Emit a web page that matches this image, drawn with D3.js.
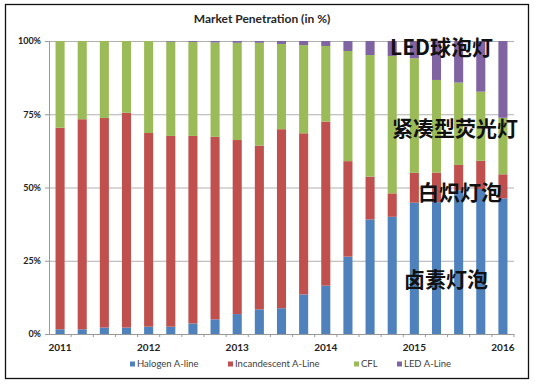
<!DOCTYPE html>
<html>
<head>
<meta charset="utf-8">
<script src="https://cdn.jsdelivr.net/npm/d3@7"></script>
<style>
  body { margin: 0; background: #fff; }
</style>
</head>
<body>
<div id="chart"></div>
<script>
const width = 535;
const height = 384;

// quarterly categories, 2011 Q1 .. 2016 Q1
const quarters = ["2011Q1","2011Q2","2011Q3","2011Q4","2012Q1","2012Q2","2012Q3","2012Q4",
  "2013Q1","2013Q2","2013Q3","2013Q4","2014Q1","2014Q2","2014Q3","2014Q4",
  "2015Q1","2015Q2","2015Q3","2015Q4","2016Q1"];
const yearLabels = { "2011Q1": "2011", "2012Q1": "2012", "2013Q1": "2013", "2014Q1": "2014", "2015Q1": "2015", "2016Q1": "2016" };
const yTicks = [0, 25, 50, 75, 100];

// shares in %
const halogen      = [1.6,1.6,2.2,2.2,2.5,2.5,3.6,5.0,6.8,8.4,8.8,13.5,16.5,26.4,39.1,40.0,44.8,45.0,49.0,49.5,46.3];
const incandescent = [68.8,71.7,71.5,73.3,66.1,65.1,64.0,62.3,59.4,55.9,61.1,55.0,56.0,32.6,14.6,8.0,10.2,10.1,8.7,9.6,8.2];
const cfl          = [29.6,26.7,26.3,24.5,31.4,32.2,32.1,32.2,33.2,35.1,29.1,30.1,25.8,37.6,41.5,46.9,39.1,31.6,28.1,23.6,19.3];
const led          = [0,0,0,0,0,0.2,0.3,0.5,0.6,0.6,1.0,1.4,1.7,3.4,4.8,5.1,5.9,13.3,14.2,17.3,26.2];

const seriesNames = ["Halogen A-line", "Incandescent A-Line", "CFL", "LED A-Line"];
const colors = ["#4f81bd", "#c0504d", "#9bbb59", "#8064a2"];

const notes = [
  { text: "LED球泡灯", x: 390, y: 46 },
  { text: "紧凑型荧光灯", x: 392, y: 127 },
  { text: "白炽灯泡", x: 418, y: 191 },
  { text: "卤素灯泡", x: 404, y: 278 }
];

const rows = quarters.map((q, i) => ({ q, s0: halogen[i], s1: incandescent[i], s2: cfl[i], s3: led[i] }));
const stack = d3.stack().keys(["s0", "s1", "s2", "s3"])(rows);

const margin = { left: 49, right: 21, top: 41, bottom: 50 };
const x = d3.scaleBand().domain(quarters).range([margin.left, width - margin.right]).paddingInner(0.59).paddingOuter(0.295);
const y = d3.scaleLinear().domain([0, 100]).range([height - margin.bottom, margin.top]);

const svg = d3.select("#chart").append("svg").attr("width", width).attr("height", height);

svg.append("rect").attr("x", 5.5).attr("y", 4.5).attr("width", 523).attr("height", 374)
  .attr("fill", "#fff").attr("stroke", "#111").attr("stroke-width", 1.3);

svg.append("text").attr("x", 262).attr("y", 23).attr("text-anchor", "middle")
  .style("font-family", "Lato, 'Open Sans', sans-serif").style("font-weight", "bold")
  .style("font-size", "12px").attr("fill", "#262626").text("Market Penetration (in %)");

// gridlines
svg.append("g").selectAll("line").data(yTicks.filter(d => d > 0)).join("line")
  .attr("x1", margin.left).attr("x2", width - margin.right)
  .attr("y1", d => y(d) + 0.5).attr("y2", d => y(d) + 0.5)
  .attr("stroke", "#b0b0b0").attr("stroke-width", 1);

// bars
svg.append("g").selectAll("g").data(stack).join("g")
  .attr("fill", (d, i) => colors[i])
  .selectAll("rect").data(d => d).join("rect")
  .attr("x", d => x(d.data.q)).attr("width", x.bandwidth())
  .attr("y", d => y(d[1])).attr("height", d => Math.max(0, y(d[0]) - y(d[1])));

// y axis
const yAxis = svg.append("g").attr("transform", `translate(${margin.left},0)`)
  .call(d3.axisLeft(y).tickValues(yTicks).tickFormat(d => d + "%").tickSize(4).tickPadding(4));
yAxis.select(".domain").attr("stroke", "#999");
yAxis.selectAll(".tick line").attr("stroke", "#999");
yAxis.selectAll("text").style("font-family", "Lato, 'Open Sans', sans-serif").style("font-weight", "bold")
  .style("font-size", "9px").attr("fill", "#222");

// x axis: ticks at band boundaries, year labels on first quarter
const xAxis = svg.append("g").attr("transform", `translate(0,${y(0)})`);
xAxis.append("line").attr("x1", margin.left).attr("x2", width - margin.right)
  .attr("y1", 0.5).attr("y2", 0.5).attr("stroke", "#999");
const step = x.step();
xAxis.selectAll("line.tk").data(quarters).join("line").attr("class", "tk")
  .attr("x1", d => x(d) - x.paddingInner() * step / 2 + step).attr("x2", d => x(d) - x.paddingInner() * step / 2 + step)
  .attr("y1", 0).attr("y2", 3).attr("stroke", "#999");
xAxis.selectAll("text").data(quarters.filter(q => yearLabels[q])).join("text")
  .attr("x", d => x(d) + x.bandwidth() / 2).attr("y", 17).attr("text-anchor", "middle")
  .style("font-family", "Lato, 'Open Sans', sans-serif").style("font-weight", "bold")
  .style("font-size", "10px").attr("fill", "#222").text(d => yearLabels[d]);

// legend
const legendX = [130, 228, 354, 397];
const legend = svg.append("g").selectAll("g").data(seriesNames).join("g")
  .attr("transform", (d, i) => `translate(${legendX[i]},364)`);
legend.append("rect").attr("x", 0).attr("y", -2.5).attr("width", 5).attr("height", 5).attr("fill", (d, i) => colors[i]);
legend.append("text").attr("x", 7).attr("y", 3.3)
  .style("font-family", "Lato, 'Open Sans', sans-serif").style("font-size", "9.5px").attr("fill", "#404040")
  .text(d => d);

// chinese annotations
svg.append("g").selectAll("text").data(notes).join("text")
  .attr("x", d => d.x).attr("y", d => d.y).attr("dominant-baseline", "central")
  .style("font-family", "'Noto Sans CJK SC', sans-serif").style("font-size", "21px").style("font-weight", "700")
  .attr("fill", "#111").text(d => d.text);
</script>
</body>
</html>
